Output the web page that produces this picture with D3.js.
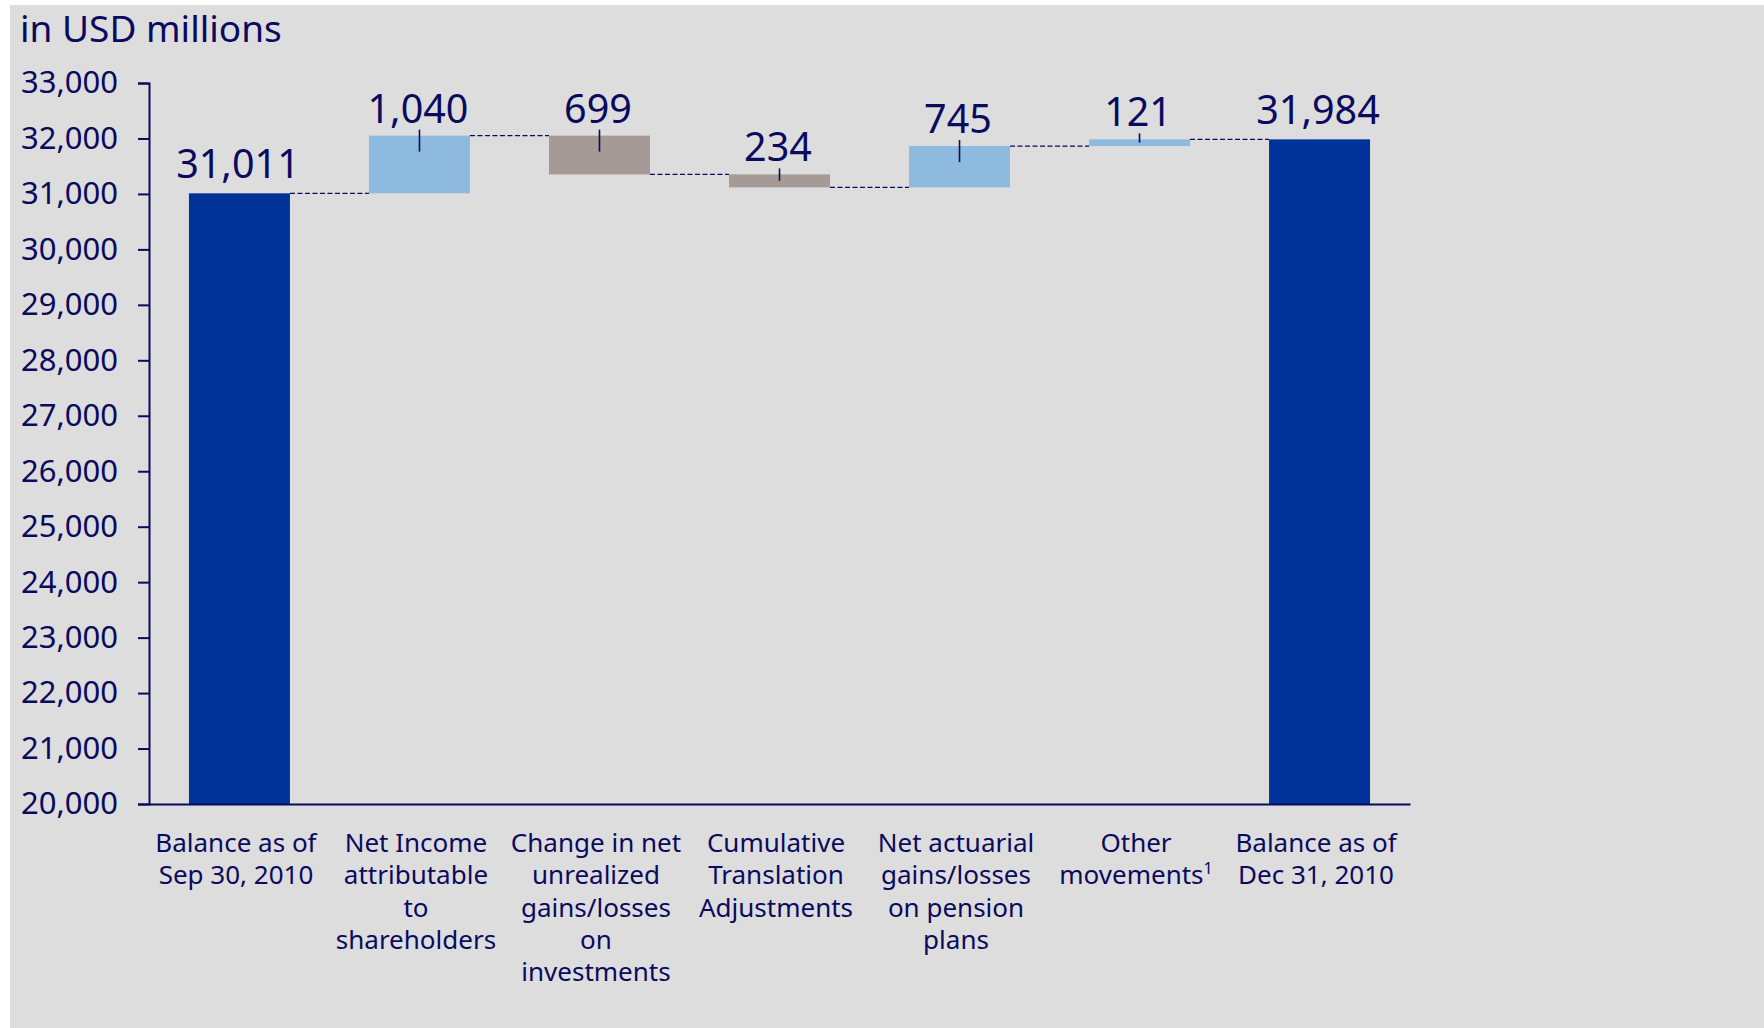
<!DOCTYPE html>
<html>
<head>
<meta charset="utf-8">
<script src="https://cdn.jsdelivr.net/npm/d3@7"></script>
<style>
  html, body { margin: 0; padding: 0; background: #ffffff; }
  svg { display: block; font-family: "Noto Sans", "Open Sans", sans-serif; }
</style>
</head>
<body>
<svg id="chart" width="1764" height="1028"></svg>
<script>
// Shareholders' equity bridge, Q4 2010 (USD millions)
const categories = [
  "Balance as of Sep 30, 2010",
  "Net Income attributable to shareholders",
  "Change in net unrealized gains/losses on investments",
  "Cumulative Translation Adjustments",
  "Net actuarial gains/losses on pension plans",
  "Other movements",
  "Balance as of Dec 31, 2010"
];
const labelLines = [
  ["Balance as of", "Sep 30, 2010"],
  ["Net Income", "attributable", "to", "shareholders"],
  ["Change in net", "unrealized", "gains/losses", "on", "investments"],
  ["Cumulative", "Translation", "Adjustments"],
  ["Net actuarial", "gains/losses", "on pension", "plans"],
  ["Other", "movements"],
  ["Balance as of", "Dec 31, 2010"]
];
const footnotes = [null, null, null, null, null, "1", null];
const values = [31011, 1040, -699, -234, 745, 121, 31984];
const kinds = ["total", "delta", "delta", "delta", "delta", "delta", "total"];
const yTicks = [20000, 21000, 22000, 23000, 24000, 25000, 26000, 27000, 28000, 29000, 30000, 31000, 32000, 33000];

const navy = "#0a0a5f";
const colors = { total: "#003399", up: "#8fbae0", down: "#a59a96" };

const svg = d3.select("#chart");

// panel background
svg.append("rect")
  .attr("x", 10).attr("y", 5)
  .attr("width", 1754).attr("height", 1023)
  .attr("fill", "#dddddd");

// title
svg.append("text")
  .attr("x", 20).attr("y", 42)
  .attr("font-size", 37)
  .attr("fill", navy)
  .text("in USD millions");

const x = d3.scaleBand()
  .domain(categories)
  .range([149, 1410])
  .paddingInner(0.439)
  .paddingOuter(0.222);

const y = d3.scaleLinear()
  .domain([20000, 33000])
  .range([804, 83]);

// build waterfall segments
let running = 0;
const bars = categories.map((c, i) => {
  let lo, hi;
  if (kinds[i] === "total") {
    lo = y.domain()[0];
    hi = values[i];
    running = values[i];
  } else {
    const start = running;
    running = start + values[i];
    lo = Math.min(start, running);
    hi = Math.max(start, running);
  }
  return {
    cat: c, value: values[i], kind: kinds[i], lo, hi, end: running,
    color: kinds[i] === "total" ? colors.total : (values[i] >= 0 ? colors.up : colors.down)
  };
});

// y axis
const yAxis = svg.append("g")
  .attr("transform", `translate(${x.range()[0]},0)`)
  .call(d3.axisLeft(y).tickValues(yTicks).tickFormat(d3.format(",")).tickSize(11).tickPadding(20));
yAxis.selectAll("path, line").attr("stroke", navy).attr("stroke-width", 2);
yAxis.selectAll("text").attr("font-size", 31).attr("fill", navy).attr("font-family", "Noto Sans, sans-serif");

// bars
svg.append("g").selectAll("rect")
  .data(bars)
  .join("rect")
  .attr("x", d => x(d.cat))
  .attr("width", x.bandwidth())
  .attr("y", d => y(d.hi))
  .attr("height", d => y(d.lo) - y(d.hi))
  .attr("fill", d => d.color);

// dashed connectors between consecutive bars
const connectors = bars.slice(0, -1).map((d, i) => ({
  x1: x(d.cat) + x.bandwidth(),
  x2: x(bars[i + 1].cat),
  level: d.end
}));
svg.append("g").selectAll("line")
  .data(connectors)
  .join("line")
  .attr("x1", d => d.x1).attr("x2", d => d.x2)
  .attr("y1", d => y(d.level)).attr("y2", d => y(d.level))
  .attr("stroke", navy)
  .attr("stroke-width", 1.3)
  .attr("stroke-dasharray", "5,2.5");

// short leader marks on the change bars
const deltas = bars.filter(d => d.kind === "delta");
svg.append("g").selectAll("line")
  .data(deltas)
  .join("line")
  .attr("x1", d => x(d.cat) + x.bandwidth() / 2)
  .attr("x2", d => x(d.cat) + x.bandwidth() / 2)
  .attr("y1", d => y(d.hi) - 6)
  .attr("y2", d => Math.min(y(d.hi) + 16, (y(d.hi) + y(d.lo)) / 2))
  .attr("stroke", navy)
  .attr("stroke-width", 1.6);

// value labels
const fmt = d3.format(",");
svg.append("g").selectAll("text")
  .data(bars)
  .join("text")
  .attr("x", d => x(d.cat) + x.bandwidth() / 2 - 1.5)
  .attr("y", d => y(d.hi) - (d.kind === "total" ? 15 : 13))
  .attr("text-anchor", "middle")
  .attr("font-size", 39.5)
  .attr("fill", navy)
  .text(d => fmt(Math.abs(d.value)));

// x axis with multi-line category labels
const xAxis = svg.append("g")
  .attr("transform", `translate(0,${y.range()[0]})`)
  .call(d3.axisBottom(x).tickSize(0).tickSizeOuter(0).tickFormat(""));
xAxis.select(".domain").attr("stroke", navy).attr("stroke-width", 2.2);

const labelG = svg.append("g").attr("fill", navy).attr("font-size", 26);
categories.forEach((c, i) => {
  const cx = x(c) + x.bandwidth() / 2 - 3.5;
  const t = labelG.append("text")
    .attr("x", cx)
    .attr("y", y.range()[0] + 48)
    .attr("text-anchor", "middle");
  labelLines[i].forEach((line, j) => {
    t.append("tspan")
      .attr("x", cx)
      .attr("dy", j === 0 ? 0 : 32.3)
      .text(line);
    if (j === labelLines[i].length - 1 && footnotes[i]) {
      t.append("tspan")
        .attr("font-size", 16)
        .attr("dy", -10)
        .text(footnotes[i]);
    }
  });
});
</script>
</body>
</html>
